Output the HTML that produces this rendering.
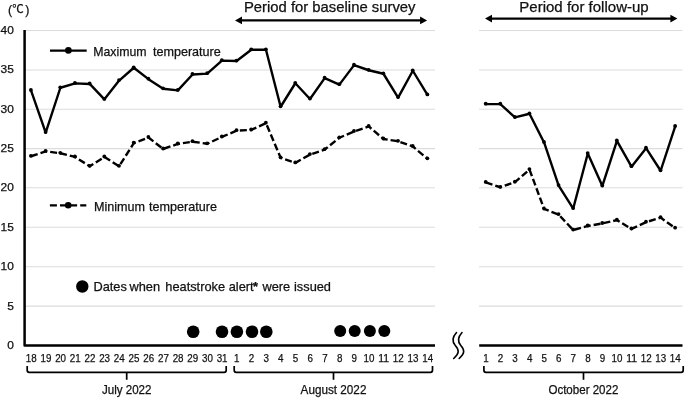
<!DOCTYPE html>
<html><head><meta charset="utf-8"><title>Temperature chart</title>
<style>
html,body{margin:0;padding:0;background:#fff;}
svg{display:block;}
text{font-family:"Liberation Sans","Noto Sans CJK JP",sans-serif;fill:#111;stroke:#111;stroke-width:0.25px;}
</style></head><body>
<svg width="685" height="398" viewBox="0 0 685 398">
<rect width="685" height="398" fill="#fff"/>

<g stroke="#dcdcdc" stroke-width="1.05">
<line x1="25" x2="435" y1="30.5" y2="30.5"/><line x1="479" x2="682.5" y1="30.5" y2="30.5"/>
<line x1="25" x2="435" y1="69.9" y2="69.9"/><line x1="479" x2="682.5" y1="69.9" y2="69.9"/>
<line x1="25" x2="435" y1="109.2" y2="109.2"/><line x1="479" x2="682.5" y1="109.2" y2="109.2"/>
<line x1="25" x2="435" y1="148.6" y2="148.6"/><line x1="479" x2="682.5" y1="148.6" y2="148.6"/>
<line x1="25" x2="435" y1="187.8" y2="187.8"/><line x1="479" x2="682.5" y1="187.8" y2="187.8"/>
<line x1="25" x2="435" y1="227.3" y2="227.3"/><line x1="479" x2="682.5" y1="227.3" y2="227.3"/>
<line x1="25" x2="435" y1="266.8" y2="266.8"/><line x1="479" x2="682.5" y1="266.8" y2="266.8"/>
<line x1="25" x2="435" y1="306.1" y2="306.1"/><line x1="479" x2="682.5" y1="306.1" y2="306.1"/>
</g>
<g stroke="#000" stroke-width="2.5" fill="none" stroke-linejoin="round"><path d="M24.6,30 V345.5 H435"/><path d="M479.2,345.5 H682.5"/></g>
<g font-size="11" text-anchor="end">
<text x="13.8" y="34.0" textLength="13.3" lengthAdjust="spacingAndGlyphs">40</text>
<text x="13.8" y="73.4" textLength="13.3" lengthAdjust="spacingAndGlyphs">35</text>
<text x="13.8" y="112.7" textLength="13.3" lengthAdjust="spacingAndGlyphs">30</text>
<text x="13.8" y="152.1" textLength="13.3" lengthAdjust="spacingAndGlyphs">25</text>
<text x="13.8" y="191.3" textLength="13.3" lengthAdjust="spacingAndGlyphs">20</text>
<text x="13.8" y="230.8" textLength="13.3" lengthAdjust="spacingAndGlyphs">15</text>
<text x="13.8" y="270.3" textLength="13.3" lengthAdjust="spacingAndGlyphs">10</text>
<text x="13.8" y="309.6" textLength="6.65" lengthAdjust="spacingAndGlyphs">5</text>
<text x="13.8" y="349.0" textLength="6.65" lengthAdjust="spacingAndGlyphs">0</text>
</g>
<g font-size="12"><text x="8.0" y="14.2" font-size="12.4">(</text><text x="12.3" y="13.1" font-size="11.4">℃</text><text x="25.2" y="14.2" font-size="12.4">)</text></g>
<g fill="none" stroke="#000" stroke-width="2.4" stroke-linejoin="round" stroke-linecap="round"><polyline points="31.00,90.35 45.69,132.55 60.37,87.75 75.06,83.35 89.74,83.95 104.42,99.35 119.11,80.55 133.79,67.75 148.48,79.15 163.16,88.75 177.85,90.35 192.53,74.45 207.22,73.65 221.91,60.65 236.59,61.05 251.28,49.75 265.96,49.75 280.64,106.75 295.33,83.25 310.01,98.95 324.70,78.15 339.38,84.65 354.07,65.15 368.75,70.25 383.44,73.75 398.12,97.55 412.81,70.75 427.50,94.85"/><polyline points="485.80,104.15 500.37,104.15 514.94,117.45 529.51,113.75 544.08,142.45 558.65,185.55 573.22,208.55 587.79,153.55 602.36,185.95 616.93,140.85 631.50,166.65 646.07,148.15 660.64,170.75 675.21,126.45"/></g>
<g fill="none" stroke="#000" stroke-width="2.4" stroke-linejoin="round" stroke-dasharray="7 3"><polyline points="31.00,156.25 45.69,151.35 60.37,153.25 75.06,156.95 89.74,166.25 104.42,156.95 119.11,166.25 133.79,143.15 148.48,137.45 163.16,148.95 177.85,143.95 192.53,141.65 207.22,143.75 221.91,136.95 236.59,130.65 251.28,129.95 265.96,123.15 280.64,157.75 295.33,162.85 310.01,154.55 324.70,149.55 339.38,137.75 354.07,131.45 368.75,126.45 383.44,138.95 398.12,141.25 412.81,146.45 427.50,158.75"/><polyline points="485.80,182.35 500.37,187.25 514.94,182.15 529.51,169.55 544.08,208.95 558.65,214.55 573.22,230.05 587.79,225.95 602.36,223.45 616.93,220.15 631.50,228.95 646.07,222.15 660.64,217.65 675.21,228.15"/></g>
<g fill="#000"><circle cx="30.90" cy="89.90" r="1.9"/><circle cx="45.59" cy="132.10" r="1.9"/><circle cx="60.27" cy="87.30" r="1.9"/><circle cx="74.95" cy="82.90" r="1.9"/><circle cx="89.64" cy="83.50" r="1.9"/><circle cx="104.32" cy="98.90" r="1.9"/><circle cx="119.01" cy="80.10" r="1.9"/><circle cx="133.69" cy="67.30" r="1.9"/><circle cx="148.38" cy="78.70" r="1.9"/><circle cx="163.06" cy="88.30" r="1.9"/><circle cx="177.75" cy="89.90" r="1.9"/><circle cx="192.44" cy="74.00" r="1.9"/><circle cx="207.12" cy="73.20" r="1.9"/><circle cx="221.81" cy="60.20" r="1.9"/><circle cx="236.49" cy="60.60" r="1.9"/><circle cx="251.18" cy="49.30" r="1.9"/><circle cx="265.86" cy="49.30" r="1.9"/><circle cx="280.55" cy="106.30" r="1.9"/><circle cx="295.23" cy="82.80" r="1.9"/><circle cx="309.92" cy="98.50" r="1.9"/><circle cx="324.60" cy="77.70" r="1.9"/><circle cx="339.29" cy="84.20" r="1.9"/><circle cx="353.97" cy="64.70" r="1.9"/><circle cx="368.66" cy="69.80" r="1.9"/><circle cx="383.34" cy="73.30" r="1.9"/><circle cx="398.03" cy="97.10" r="1.9"/><circle cx="412.71" cy="70.30" r="1.9"/><circle cx="427.40" cy="94.40" r="1.9"/><circle cx="485.70" cy="103.70" r="1.9"/><circle cx="500.27" cy="103.70" r="1.9"/><circle cx="514.84" cy="117.00" r="1.9"/><circle cx="529.41" cy="113.30" r="1.9"/><circle cx="543.98" cy="142.00" r="1.9"/><circle cx="558.55" cy="185.10" r="1.9"/><circle cx="573.12" cy="208.10" r="1.9"/><circle cx="587.69" cy="153.10" r="1.9"/><circle cx="602.26" cy="185.50" r="1.9"/><circle cx="616.83" cy="140.40" r="1.9"/><circle cx="631.40" cy="166.20" r="1.9"/><circle cx="645.97" cy="147.70" r="1.9"/><circle cx="660.54" cy="170.30" r="1.9"/><circle cx="675.11" cy="126.00" r="1.9"/><circle cx="30.90" cy="155.80" r="1.9"/><circle cx="45.59" cy="150.90" r="1.9"/><circle cx="60.27" cy="152.80" r="1.9"/><circle cx="74.95" cy="156.50" r="1.9"/><circle cx="89.64" cy="165.80" r="1.9"/><circle cx="104.32" cy="156.50" r="1.9"/><circle cx="119.01" cy="165.80" r="1.9"/><circle cx="133.69" cy="142.70" r="1.9"/><circle cx="148.38" cy="137.00" r="1.9"/><circle cx="163.06" cy="148.50" r="1.9"/><circle cx="177.75" cy="143.50" r="1.9"/><circle cx="192.44" cy="141.20" r="1.9"/><circle cx="207.12" cy="143.30" r="1.9"/><circle cx="221.81" cy="136.50" r="1.9"/><circle cx="236.49" cy="130.20" r="1.9"/><circle cx="251.18" cy="129.50" r="1.9"/><circle cx="265.86" cy="122.70" r="1.9"/><circle cx="280.55" cy="157.30" r="1.9"/><circle cx="295.23" cy="162.40" r="1.9"/><circle cx="309.92" cy="154.10" r="1.9"/><circle cx="324.60" cy="149.10" r="1.9"/><circle cx="339.29" cy="137.30" r="1.9"/><circle cx="353.97" cy="131.00" r="1.9"/><circle cx="368.66" cy="126.00" r="1.9"/><circle cx="383.34" cy="138.50" r="1.9"/><circle cx="398.03" cy="140.80" r="1.9"/><circle cx="412.71" cy="146.00" r="1.9"/><circle cx="427.40" cy="158.30" r="1.9"/><circle cx="485.70" cy="181.90" r="1.9"/><circle cx="500.27" cy="186.80" r="1.9"/><circle cx="514.84" cy="181.70" r="1.9"/><circle cx="529.41" cy="169.10" r="1.9"/><circle cx="543.98" cy="208.50" r="1.9"/><circle cx="558.55" cy="214.10" r="1.9"/><circle cx="573.12" cy="229.60" r="1.9"/><circle cx="587.69" cy="225.50" r="1.9"/><circle cx="602.26" cy="223.00" r="1.9"/><circle cx="616.83" cy="219.70" r="1.9"/><circle cx="631.40" cy="228.50" r="1.9"/><circle cx="645.97" cy="221.70" r="1.9"/><circle cx="660.54" cy="217.20" r="1.9"/><circle cx="675.11" cy="227.70" r="1.9"/></g>
<g stroke="#000" stroke-width="2.4" fill="none"><line x1="50" x2="86.7" y1="50.6" y2="50.6"/><line x1="49.9" x2="86.3" y1="205.4" y2="205.4" stroke-dasharray="7 3.1"/></g>
<g fill="#000"><circle cx="68.4" cy="50.4" r="3.3"/><circle cx="68.2" cy="205.3" r="3.3"/><circle cx="82.3" cy="286.5" r="6.2"/></g>
<g font-size="12.3"><text y="55.6"><tspan x="93.2" font-size="12.6" textLength="53.4" lengthAdjust="spacingAndGlyphs">Maximum</tspan> <tspan x="152.9" font-size="12.6">temperature</tspan></text><text y="211"><tspan x="93.9" font-size="12.6">Minimum</tspan> <tspan x="149.1" font-size="12.6">temperature</tspan></text>
<text y="290.8" font-size="12.8"><tspan x="93.4">Dates</tspan> <tspan x="129.5">when</tspan> <tspan x="165.3">heatstroke</tspan> <tspan x="228.7">alert</tspan><tspan x="252.9" font-weight="bold">*</tspan> <tspan x="262.5">were</tspan> <tspan x="294.0">issued</tspan></text></g>
<g fill="#000"><circle cx="193.2" cy="331.8" r="6.3"/><circle cx="222.0" cy="331.8" r="6.3"/><circle cx="236.9" cy="331.8" r="6.3"/><circle cx="252.0" cy="331.8" r="6.3"/><circle cx="266.3" cy="331.8" r="6.3"/><circle cx="340.2" cy="331.0" r="6.0"/><circle cx="354.7" cy="331.0" r="6.0"/><circle cx="369.9" cy="331.0" r="6.0"/><circle cx="384.3" cy="331.0" r="6.0"/></g>
<g font-size="11" text-anchor="middle">
<text x="31.2" y="362" textLength="10.9" lengthAdjust="spacingAndGlyphs">18</text>
<text x="45.9" y="362" textLength="10.9" lengthAdjust="spacingAndGlyphs">19</text>
<text x="60.6" y="362" textLength="10.9" lengthAdjust="spacingAndGlyphs">20</text>
<text x="75.3" y="362" textLength="10.9" lengthAdjust="spacingAndGlyphs">21</text>
<text x="89.9" y="362" textLength="10.9" lengthAdjust="spacingAndGlyphs">22</text>
<text x="104.6" y="362" textLength="10.9" lengthAdjust="spacingAndGlyphs">23</text>
<text x="119.3" y="362" textLength="10.9" lengthAdjust="spacingAndGlyphs">24</text>
<text x="134.0" y="362" textLength="10.9" lengthAdjust="spacingAndGlyphs">25</text>
<text x="148.7" y="362" textLength="10.9" lengthAdjust="spacingAndGlyphs">26</text>
<text x="163.4" y="362" textLength="10.9" lengthAdjust="spacingAndGlyphs">27</text>
<text x="178.1" y="362" textLength="10.9" lengthAdjust="spacingAndGlyphs">28</text>
<text x="192.7" y="362" textLength="10.9" lengthAdjust="spacingAndGlyphs">29</text>
<text x="207.4" y="362" textLength="10.9" lengthAdjust="spacingAndGlyphs">30</text>
<text x="222.1" y="362" textLength="10.9" lengthAdjust="spacingAndGlyphs">31</text>
<text x="236.8" y="362" textLength="5.45" lengthAdjust="spacingAndGlyphs">1</text>
<text x="251.5" y="362" textLength="5.45" lengthAdjust="spacingAndGlyphs">2</text>
<text x="266.2" y="362" textLength="5.45" lengthAdjust="spacingAndGlyphs">3</text>
<text x="280.8" y="362" textLength="5.45" lengthAdjust="spacingAndGlyphs">4</text>
<text x="295.5" y="362" textLength="5.45" lengthAdjust="spacingAndGlyphs">5</text>
<text x="310.2" y="362" textLength="5.45" lengthAdjust="spacingAndGlyphs">6</text>
<text x="324.9" y="362" textLength="5.45" lengthAdjust="spacingAndGlyphs">7</text>
<text x="339.6" y="362" textLength="5.45" lengthAdjust="spacingAndGlyphs">8</text>
<text x="354.3" y="362" textLength="5.45" lengthAdjust="spacingAndGlyphs">9</text>
<text x="369.0" y="362" textLength="10.9" lengthAdjust="spacingAndGlyphs">10</text>
<text x="383.6" y="362" textLength="10.9" lengthAdjust="spacingAndGlyphs">11</text>
<text x="398.3" y="362" textLength="10.9" lengthAdjust="spacingAndGlyphs">12</text>
<text x="413.0" y="362" textLength="10.9" lengthAdjust="spacingAndGlyphs">13</text>
<text x="427.7" y="362" textLength="10.9" lengthAdjust="spacingAndGlyphs">14</text>
<text x="485.9" y="362" textLength="5.45" lengthAdjust="spacingAndGlyphs">1</text>
<text x="500.5" y="362" textLength="5.45" lengthAdjust="spacingAndGlyphs">2</text>
<text x="515.0" y="362" textLength="5.45" lengthAdjust="spacingAndGlyphs">3</text>
<text x="529.6" y="362" textLength="5.45" lengthAdjust="spacingAndGlyphs">4</text>
<text x="544.2" y="362" textLength="5.45" lengthAdjust="spacingAndGlyphs">5</text>
<text x="558.8" y="362" textLength="5.45" lengthAdjust="spacingAndGlyphs">6</text>
<text x="573.3" y="362" textLength="5.45" lengthAdjust="spacingAndGlyphs">7</text>
<text x="587.9" y="362" textLength="5.45" lengthAdjust="spacingAndGlyphs">8</text>
<text x="602.5" y="362" textLength="5.45" lengthAdjust="spacingAndGlyphs">9</text>
<text x="617.0" y="362" textLength="10.9" lengthAdjust="spacingAndGlyphs">10</text>
<text x="631.6" y="362" textLength="10.9" lengthAdjust="spacingAndGlyphs">11</text>
<text x="646.2" y="362" textLength="10.9" lengthAdjust="spacingAndGlyphs">12</text>
<text x="660.7" y="362" textLength="10.9" lengthAdjust="spacingAndGlyphs">13</text>
<text x="675.3" y="362" textLength="10.9" lengthAdjust="spacingAndGlyphs">14</text>
</g>
<g stroke="#000" stroke-width="1.7" fill="none">
<path d="M27.2,366.1 V370.3 Q27.2,372.3 29.2,372.3 H224.2 Q226.2,372.3 226.2,370.3 V366.1 M126.7,372.3 V379.8"/><path d="M234.2,366.1 V370.3 Q234.2,372.3 236.2,372.3 H430.5 Q432.5,372.3 432.5,370.3 V366.1 M333.5,372.3 V379.8"/><path d="M483.9,366.1 V370.3 Q483.9,372.3 485.9,372.3 H681.2 Q683.2,372.3 683.2,370.3 V366.1 M583.5,372.3 V379.8"/>
</g>
<g font-size="12" text-anchor="middle"><text x="126.7" y="393.6" textLength="49.6" lengthAdjust="spacingAndGlyphs">July 2022</text><text x="333.5" y="393.6" textLength="65.8" lengthAdjust="spacingAndGlyphs">August 2022</text><text x="583.4" y="393.6" textLength="70" lengthAdjust="spacingAndGlyphs">October 2022</text></g>
<g stroke="#000" stroke-width="1.6" fill="none" stroke-linecap="round"><path d="M456.5,332.5 C452,337.5 451.8,341.5 455.3,345.5 C459.2,350 459.6,353 453.7,358.5"/><path d="M462,332.5 C457.5,337.5 457.3,341.5 460.8,345.5 C464.7,350 465.1,353 459.2,358.5"/></g>
<line x1="239" x2="423.1" y1="20.4" y2="20.4" stroke="#000" stroke-width="2.3"/><path d="M235,20.4 L242,16.599999999999998 V24.2 Z M427.1,20.4 L420.1,16.599999999999998 V24.2 Z" fill="#000"/><line x1="489" x2="673.4" y1="18.6" y2="18.6" stroke="#000" stroke-width="2.3"/><path d="M485,18.6 L492,14.8 V22.400000000000002 Z M677.4,18.6 L670.4,14.8 V22.400000000000002 Z" fill="#000"/>
<g font-size="14.2" text-anchor="middle"><text x="329.7" y="11.7" textLength="171.6" lengthAdjust="spacingAndGlyphs">Period for baseline survey</text><text x="584" y="12" textLength="129.4" lengthAdjust="spacingAndGlyphs">Period for follow-up</text></g>
</svg></body></html>
